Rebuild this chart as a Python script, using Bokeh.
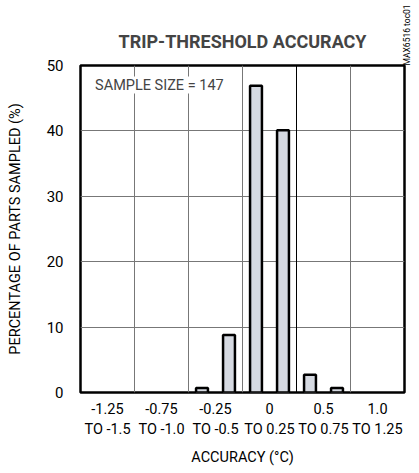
from bokeh.plotting import figure
from bokeh.models import FixedTicker, Label, ColumnDataSource, Span, LinearAxis
from bokeh.embed import file_html
from bokeh.resources import INLINE
import math

# data
col_labels = ["-1.25\nTO -1.5", "-0.75\nTO -1.0", "-0.25\nTO -0.5", "0\nTO 0.25", "0.5\nTO 0.75", "1.0\nTO 1.25"]
bar_pos = [2.25, 2.75, 3.25, 3.75, 4.25, 4.75]
bar_pct = [0.7, 8.8, 46.9, 40.1, 2.7, 0.7]
y_ticks = [0, 10, 20, 30, 40, 50]
FONT = "Roboto"

p = figure(width=419, height=473, output_backend="svg", toolbar_location=None,
           x_range=(0, 6), y_range=(0, 50),
           min_border_left=80, min_border_right=13, min_border_top=65, min_border_bottom=81)

p.title.text = "TRIP-THRESHOLD ACCURACY"
p.title.align = "center"
p.title.text_font = FONT
p.title.text_font_size = "18px"
p.title.text_font_style = "bold"
p.title.standoff = 28

p.outline_line_color = "black"
p.outline_line_width = 2.5

p.xaxis.ticker = FixedTicker(ticks=[i + 0.5 for i in range(6)])
p.xaxis.major_label_overrides = {i + 0.5: col_labels[i] for i in range(6)}
p.yaxis.ticker = FixedTicker(ticks=y_ticks)

for ax in (p.xaxis, p.yaxis):
    ax.axis_line_color = None
    ax.major_tick_line_color = None
    ax.minor_tick_line_color = None
    ax.major_tick_out = 0
    ax.major_tick_in = 0
    ax.major_label_text_font = FONT
    ax.axis_label_text_font = FONT
    ax.axis_label_text_font_style = "normal"
    ax.major_label_text_color = "black"
    ax.axis_label_text_color = "black"

p.xaxis.major_label_text_font_size = "14.5px"
p.xaxis.axis_label_text_font_size = "14.5px"
p.yaxis.major_label_text_font_size = "15px"
p.yaxis.axis_label_text_font_size = "14.5px"

p.xaxis.axis_label = "ACCURACY (°C)"
p.yaxis.axis_label = "PERCENTAGE OF PARTS SAMPLED (%)"
p.xaxis.major_label_standoff = 8
p.xaxis.axis_label_standoff = 8
p.yaxis.major_label_standoff = 17
p.yaxis.axis_label_standoff = 20

p.xgrid.ticker = FixedTicker(ticks=[1, 2, 3, 5])
p.ygrid.ticker = FixedTicker(ticks=[10, 20, 30, 40])
p.xgrid.grid_line_color = "#777777"
p.ygrid.grid_line_color = "#777777"
p.xgrid.grid_line_width = 1
p.ygrid.grid_line_width = 1
p.add_layout(Span(location=4, dimension="height", line_color="black", line_width=1))

src = ColumnDataSource(dict(x=bar_pos, top=bar_pct))
p.vbar(x="x", top="top", bottom=0, width=0.22, source=src,
       fill_color="#d5d9e1", line_color="black", line_width=2.5)

p.add_layout(Label(x=0.27, y=48.3, text="SAMPLE SIZE = 147", text_font=FONT,
                   text_font_size="14.5px", text_baseline="top", text_align="left",
                   background_fill_color="white"))

# side note as a tick-less right axis label
rax = LinearAxis(ticker=FixedTicker(ticks=[]), axis_label="MAX6516 toc01",
                 axis_line_color=None, major_tick_line_color=None, minor_tick_line_color=None,
                 major_tick_out=0, major_tick_in=0, major_label_standoff=0,
                 major_label_text_font_size="0px",
                 axis_label_standoff=2, axis_label_text_font=FONT,
                 axis_label_text_font_size="8.5px", axis_label_text_font_style="normal",
                 axis_label_text_color="black")
try:
    rax.axis_label_orientation = math.pi / 2
except Exception:
    pass
try:
    rax.axis_label_align = "end"
except Exception:
    pass
p.add_layout(rax, "right")

p.background_fill_color = "white"
p.border_fill_color = "white"

open("out.html", "w").write(file_html(p, INLINE))
